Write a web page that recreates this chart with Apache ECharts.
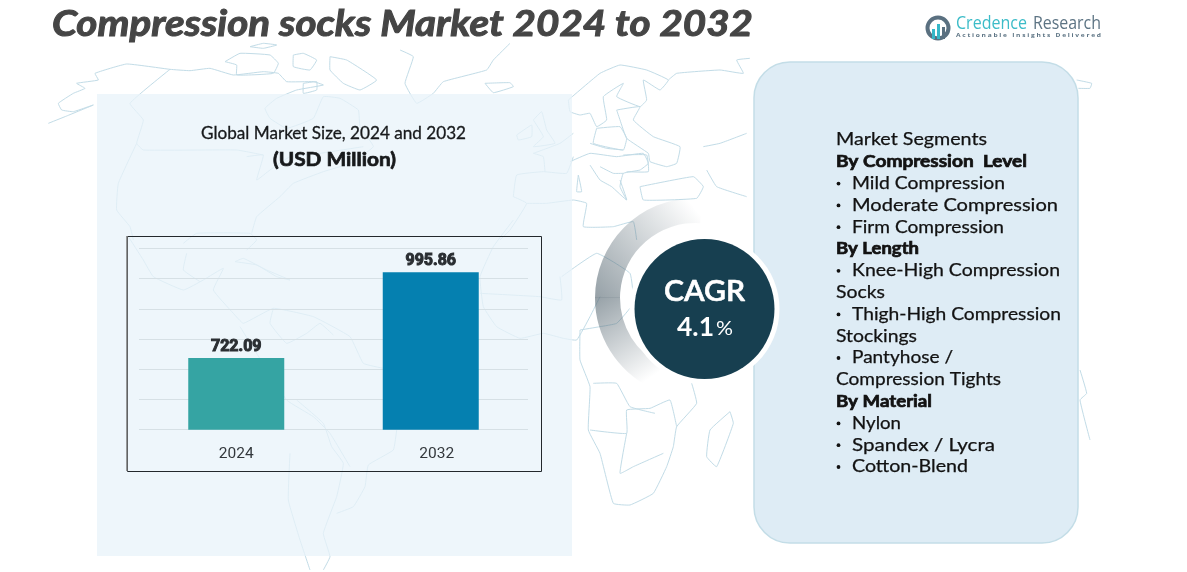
<!DOCTYPE html>
<html>
<head>
<meta charset="utf-8">
<style>html,body{margin:0;padding:0;background:#fff}#main{width:1187px;height:572px}</style>
<script src="https://cdn.jsdelivr.net/npm/echarts@6/dist/echarts.min.js"></script>
</head>
<body>
<div id="main"></div>
<script>
// chart values
var years = ['2024', '2032'];
var marketSize = [722.09, 995.86];
var barColors = ['#35a4a3', '#0580b0'];

var titleText = 'Compression socks Market 2024 to 2032';
// * = bold heading, - = bullet
var segmentLines = [
    'Market Segments', '*By Compression  Level', '-Mild Compression', '-Moderate Compression',
    '-Firm Compression', '*By Length', '-Knee-High Compression', 'Socks',
    '-Thigh-High Compression', 'Stockings', '-Pantyhose /', 'Compression Tights',
    '*By Material', '-Nylon', '-Spandex / Lycra', '-Cotton-Blend'
];
// where each of those lines ends in the picture
var segmentRight = [987, 1027, 1005, 1058, 1004, 919, 1060, 885, 1061, 917, 953, 1001, 932, 901, 995, 968];

// background world map, traced by hand: [origin x, origin y, zoomed points...] at 3x
var mapLines = [
    [30,40,[55,250,110,228,190,195,130,215,95,210,85,190,130,160,165,145,140,130,205,120,195,100,290,72,420,88,480,92,540,85,610,105,700,95,745,100,770,125,850,125,880,135,800,150,740,175,705,205,720,235,770,265,850,235,880,170,930,175,985,210,990,260,1030,320,960,370,880,395,790,430,750,470,680,530,665,580]],
    [30,40,[420,88,300,190,340,240,320,310,340,330,620,330,700,345]],
    [30,40,[320,310,265,430,260,510,300,560,310,600]],
    [30,40,[650,350,700,345,680,420,720,390,780,350,870,340,1000,320]],
    [30,40,[585,65,630,40,720,45,745,70,730,100,620,105,620,75,585,65]],
    [30,40,[790,45,820,40,860,60,840,90,790,80,790,45]],
    [30,40,[900,50,950,60,1040,120,990,150,940,130,900,90,900,50]],
    [30,40,[820,130,860,125,860,150,820,160,820,130]],
    [30,40,[660,20,700,10,740,15,700,25,660,20]],
    [400,40,[0,30,40,50,15,130,50,190,100,160,130,125,260,90,280,60,330,10]],
    [400,40,[255,130,330,128,340,140,280,158,255,130]],
    [400,40,[400,240,425,215,440,270,465,310,400,320,430,290,400,240]],
    [400,40,[350,285,395,255,395,290,355,300,350,285]],
    [400,40,[340,470,350,405,430,395,500,400,520,350]],
    [400,40,[400,340,430,350,435,395]],
    [400,40,[400,340,480,310,520,280]],
    [400,40,[505,180,600,100,660,75,740,90,805,120,780,150,730,120,740,180,720,200,650,170,670,130,610,170,620,240,590,260,570,220,540,225,510,215,505,180]],
    [400,40,[650,210,720,200,700,240,760,290,840,320,830,370,800,380,750,365,745,340,680,295,660,240,650,210]],
    [400,40,[805,120,830,100,960,90,1030,100,1010,60,1050,55]],
    [400,40,[590,265,660,260,680,295,670,330,580,310,590,265]],
    [400,40,[570,375,600,420,635,440,680,480,660,420]],
    [400,40,[510,365,570,340,650,350,730,340,745,370,720,390,670,400,660,440,680,480]],
    [400,40,[600,380,640,400,670,400]],
    [400,40,[670,345,740,345,745,395,680,395]],
    [400,40,[570,310,620,325,670,330]],
    [400,40,[720,440,880,410,910,440,890,475,730,480,720,440]],
    [400,40,[910,320,960,310,1040,280]],
    [400,40,[920,390,950,440,1040,470]],
    [400,40,[535,405,545,455,530,455,535,405]],
    [400,40,[340,470,380,490,330,570,300,600]],
    [400,40,[380,490,440,490,520,480,560,490,550,560,640,560,700,545,710,600]],
    [280,220,[700,0,640,80,600,170,610,260,650,320,720,355,790,340,850,355,890,360,930,290,960,230]],
    [280,220,[900,330,900,420,930,500,925,630,960,700,1000,850,1050,855,1120,820,1160,740,1180,680,1190,620,1250,550,1235,490]],
    [280,220,[930,630,1040,640,1040,570,1110,565,1170,540,1190,620]],
    [280,220,[1040,640,1020,760,1060,740,1150,700]],
    [280,220,[940,490,1010,490,1050,560,1125,580]],
    [280,220,[845,170,950,100,1050,160,1060,250,1010,310,960,320,900,330]],
    [280,220,[840,170,845,240,780,230,600,220]],
    [280,220,[1350,575,1360,610,1310,740,1280,710,1290,630,1350,575]],
    [280,220,[50,540,130,610,155,680,190,730,170,830,130,940,150,1010,130,1050]],
    [280,220,[350,630,340,690,265,735,255,800,220,860,170,880]],
    [280,220,[30,700,25,840,60,960,90,1050]],
    [100,220,[85,50,130,120,160,170,250,210,310,180,370,145,340,210,400,280,430,310,520,265,640,290,750,350,790,430,850,445]],
    [100,220,[260,100,250,150,300,185]],
    [100,220,[405,125,470,135,530,170,570,180,500,150,430,115,405,125]],
    [100,220,[250,70,290,40,450,40,470,60,440,90]],
    [100,220,[520,265,510,310,560,370,620,340,660,310,700,345]],
    [100,220,[420,320,560,540,640,590,690,640,750,740]],
    [1060,60,[50,60,95,70,90,85,55,85]],
    [740,300,[1020,210,1040,280,1020,300,1050,420]]
];

// stretch a text to the width it has in the picture
var measureCtx = document.createElement('canvas').getContext('2d');
function fitScale(text, font, width) {
    measureCtx.font = font;
    return width / measureCtx.measureText(text).width;
}
function fitted(text, font, left, cy, width, color, extra) {
    var style = { text: text, font: font, fill: color, textVerticalAlign: 'middle' };
    for (var k in extra) style[k] = extra[k];
    return {
        type: 'text', x: left, y: cy, z: 10,
        scaleX: fitScale(text, font, width), style: style
    };
}

var elements = [];

// map
mapLines.forEach(function (m) {
    var pts = [];
    for (var i = 0; i < m[2].length; i += 2) {
        pts.push([m[0] + m[2][i] / 3, m[1] + m[2][i + 1] / 3]);
    }
    elements.push({
        type: 'polyline', z: -20, shape: { points: pts, smooth: 0.1 },
        style: { stroke: '#c2dce7', lineWidth: 1, fill: null }
    });
});

// panels
elements.push({
    type: 'rect', z: -15, shape: { x: 97, y: 94, width: 475, height: 462 },
    style: { fill: 'rgba(232,243,250,0.75)' }
});
elements.push({
    type: 'rect', z: -15, shape: { x: 754, y: 62, width: 324, height: 481, r: 36 },
    style: { fill: '#deecf5', stroke: '#c3dde7', lineWidth: 1.5 }
});

// chart frame
elements.push({
    type: 'rect', z: -5, shape: { x: 127.5, y: 236.5, width: 414, height: 235 },
    style: { fill: null, stroke: '#23282c', lineWidth: 1 }
});
elements.push({
    type: 'line', z: -4, shape: { x1: 127, y1: 236, x2: 127, y2: 471 },
    style: { stroke: '#777', lineWidth: 1.5 }
});

// grey ring behind CAGR circle
function ringPart(a0, a1, x2, y2) {
    return {
        type: 'sector', z: -3,
        shape: { cx: 695, cy: 298, r0: 75, r: 100, startAngle: a0 * Math.PI / 180, endAngle: a1 * Math.PI / 180 },
        style: {
            fill: {
                type: 'linear', global: true, x: 597, y: 298, x2: x2, y2: y2,
                colorStops: [
                    { offset: 0, color: 'rgba(88,105,115,0.62)' },
                    { offset: 1, color: 'rgba(88,105,115,0)' }
                ]
            }
        }
    };
}
elements.push(ringPart(116, 180.2, 650, 378));
elements.push(ringPart(180, 274, 698, 212));
elements.push({ type: 'circle', z: -2, shape: { cx: 704.5, cy: 309, r: 75 }, style: { fill: '#fff' } });
elements.push({ type: 'circle', z: -1, shape: { cx: 704.5, cy: 309, r: 70 }, style: { fill: '#173f50' } });
elements.push(fitted('CAGR', '600 29px Lato', 664, 292, 81, '#fff', { stroke: '#fff', lineWidth: 0.6 }));
elements.push(fitted('4.1', '700 27px Lato', 677, 327, 37, '#fff', {}));
elements.push(fitted('%', '400 19px Lato', 716, 329, 17, '#fff', {}));

// heading
elements.push(fitted(titleText, 'italic 700 36px Lato', 52, 24, 701, '#454545', { stroke: '#454545', lineWidth: 1 }));
elements.push(fitted('Global Market Size, 2024 and 2032', '400 17px Lato', 201, 134, 265, '#17191b', { stroke: '#17191b', lineWidth: 0.3 }));
elements.push(fitted('(USD Million)', '700 19px Lato', 273, 160, 123, '#17191b', { stroke: '#17191b', lineWidth: 0.7 }));

// logo
elements.push({ type: 'circle', z: 5, shape: { cx: 938, cy: 28, r: 10.5 }, style: { fill: null, stroke: '#5a7080', lineWidth: 4 } });
elements.push({ type: 'rect', z: 6, shape: { x: 932, y: 29, width: 3, height: 10 }, style: { fill: '#35b8c8' } });
elements.push({ type: 'rect', z: 6, shape: { x: 937, y: 24, width: 3, height: 15 }, style: { fill: '#35b8c8' } });
elements.push({ type: 'rect', z: 6, shape: { x: 942, y: 27, width: 3, height: 12 }, style: { fill: '#5a7080' } });
elements.push(fitted('Credence', '400 19px "Open Sans"', 956, 24, 71, '#3cbcc8', {}));
elements.push(fitted('Research', '400 19px "Open Sans"', 1033, 24, 68, '#5d7484', {}));
elements.push(fitted('A c t i o n a b l e   I n s i g h t s   D e l i v e r e d', '700 5px "Open Sans"', 956, 36, 145, '#5d7484', {}));

// segment list
segmentLines.forEach(function (line, i) {
    var kind = line.charAt(0);
    var txt = (kind === '*' || kind === '-') ? line.slice(1) : line;
    var left = kind === '-' ? 852 : 836;
    var cy = 140 + i * 21.8;
    var bold = kind === '*';
    var font = (bold ? '700 ' : '400 ') + '17px Lato';
    elements.push(fitted(txt, font, left, cy, segmentRight[i] - left, '#121212', {
        stroke: '#121212', lineWidth: bold ? 0.7 : 0.25
    }));
    if (kind === '-') {
        elements.push({ type: 'circle', z: 10, shape: { cx: 838.5, cy: cy, r: 1.9 }, style: { fill: '#121212' } });
    }
});

var chart = echarts.init(document.getElementById('main'));
chart.setOption({
    animation: false,
    backgroundColor: '#fff',
    graphic: { elements: elements },
    grid: { left: 139, right: 659, top: 248.3, bottom: 142.3 },
    xAxis: {
        type: 'category',
        data: years,
        axisLine: { show: false },
        axisTick: { show: false },
        axisLabel: {
            color: '#33383c', fontFamily: 'Roboto', fontSize: 15.5, margin: 16,
            // the 2032 label sits a little right of its bar
            formatter: function (v, i) { return i ? '{off|' + v + '}' : v; },
            rich: { off: { color: '#33383c', fontFamily: 'Roboto', fontSize: 15.5, padding: [0, 0, 0, 12] } }
        }
    },
    yAxis: [
        // value axis does not start at zero in the original
        { type: 'value', min: 494, max: 1072, show: false, splitLine: { show: false } },
        // only for the six even rules across the plot
        {
            type: 'value', min: 0, max: 6, interval: 1,
            axisLine: { show: false }, axisTick: { show: false }, axisLabel: { show: false },
            splitLine: { show: true, lineStyle: { color: '#d6e0e5', width: 1 } }
        }
    ],
    series: [
        {
            type: 'bar',
            yAxisIndex: 0,
            barWidth: 96,
            data: marketSize.map(function (v, i) {
                return { value: v, itemStyle: { color: barColors[i] } };
            }),
            label: {
                show: true,
                position: 'top',
                distance: 3,
                formatter: function (p) { return p.value.toFixed(2); },
                color: '#2a2e32',
                fontFamily: 'Roboto',
                fontWeight: 700,
                fontSize: 16,
                textBorderColor: '#2a2e32',
                textBorderWidth: 1
            }
        }
    ]
});
</script>
</body>
</html>
